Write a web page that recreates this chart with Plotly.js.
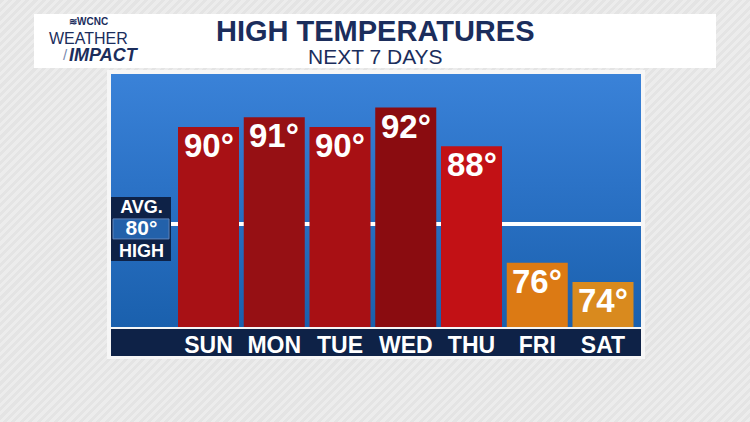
<!DOCTYPE html>
<html>
<head>
<meta charset="utf-8">
<script src="https://cdn.plot.ly/plotly-3.0.1.min.js"></script>
<style>
  html, body { margin:0; padding:0; }
  #wrap { position:relative; width:750px; height:422px; overflow:hidden;
    background: repeating-linear-gradient(135deg, #e4e4e4 0px, #e4e4e4 3px, #ececec 3px, #ececec 6px); }
  .bg { position:absolute; }
  #header { left:34px; top:14px; width:682px; height:54px; background:#ffffff; }
  #panel { left:107px; top:70px; width:538px; height:289px; background:#f6f6f6; }
  #blue { left:111px; top:74px; width:530px; height:253px;
    background: linear-gradient(to bottom, #3a82d8 0%, #2b72c6 45%, #1a60ad 100%); }
  #chart { position:absolute; left:0; top:0; width:750px; height:422px; }
</style>
</head>
<body>
<div id="wrap">
  <div class="bg" id="header"></div>
  <div class="bg" id="panel"></div>
  <div class="bg" id="blue"></div>
  <div id="chart"></div>
</div>
<script>
// ---- data ----
const days = ['SUN', 'MON', 'TUE', 'WED', 'THU', 'FRI', 'SAT'];
const highs = [90, 91, 90, 92, 88, 76, 74];
const avgHigh = 80;
const titleText = 'HIGH TEMPERATURES';
const subtitleText = 'NEXT 7 DAYS';

// ---- styles ----
const barColors = ['#a81115', '#961014', '#a81014', '#8a0c10', '#c21115', '#dc7a14', '#d98a1e'];
const W = 750, H = 422;
const px = x => x / W;
const py = y => 1 - y / H;
const navy = '#0e2247';
const titleNavy = '#1b2d5c';
const boldFont = {family: 'Liberation Sans, Arial, sans-serif', weight: 700};

const trace = {
  type: 'bar',
  x: days,
  y: highs,
  width: 0.928,
  marker: {color: barColors, line: {width: 0}},
  hoverinfo: 'skip'
};

const shapes = [
  // x label band
  {type: 'rect', xref: 'paper', yref: 'paper', x0: px(111), x1: px(641), y0: py(356), y1: py(329),
   fillcolor: navy, line: {width: 0}, layer: 'below'},
  // average line
  {type: 'line', xref: 'x domain', yref: 'y', x0: 0, x1: 1, y0: avgHigh, y1: avgHigh,
   line: {color: '#ffffff', width: 4}, layer: 'below'},
  // avg label box
  {type: 'rect', xref: 'paper', yref: 'y', ysizemode: 'pixel', yanchor: avgHigh,
   x0: px(111), x1: px(171), y0: -37, y1: 27, fillcolor: navy, line: {width: 0}, layer: 'above'},
  {type: 'rect', xref: 'paper', yref: 'y', ysizemode: 'pixel', yanchor: avgHigh,
   x0: px(113), x1: px(169), y0: -15, y1: 5, fillcolor: '#2361aa', line: {color: '#5f83b8', width: 1}, layer: 'above'}
];

const annotations = [
  {xref: 'paper', yref: 'paper', x: px(375), y: py(31), text: titleText, showarrow: false,
   xanchor: 'center', yanchor: 'middle', font: Object.assign({size: 29, color: titleNavy}, boldFont)},
  {xref: 'paper', yref: 'paper', x: px(375), y: py(56.5), text: subtitleText, showarrow: false,
   xanchor: 'center', yanchor: 'middle', font: {family: 'Liberation Sans, Arial, sans-serif', size: 21, color: titleNavy}},
  // logo
  {xref: 'paper', yref: 'paper', x: px(88), y: py(22), text: '<b>≋WCNC</b>', showarrow: false,
   xanchor: 'center', yanchor: 'middle', font: {family: 'Liberation Sans, Arial, sans-serif', size: 10, color: titleNavy}},
  {xref: 'paper', yref: 'paper', x: px(88), y: py(38), text: 'WEATHER', showarrow: false,
   xanchor: 'center', yanchor: 'middle', font: {family: 'Liberation Sans Narrow, Liberation Sans, Arial, sans-serif', size: 16, color: titleNavy}},
  {xref: 'paper', yref: 'paper', x: px(104), y: py(55), text: '<b><i>IMPACT</i></b>', showarrow: false,
   xanchor: 'center', yanchor: 'middle', font: {family: 'Liberation Sans, Arial, sans-serif', size: 18, color: titleNavy}},
  {xref: 'paper', yref: 'paper', x: px(65), y: py(55), text: '/', showarrow: false,
   xanchor: 'center', yanchor: 'middle', font: {family: 'Liberation Sans, Arial, sans-serif', size: 15, color: '#7a8bb0'}},
  // avg label (one block, three lines)
  {xref: 'paper', yref: 'y', x: px(141), y: avgHigh, yshift: -5,
   text: '<span style="font-size:18px">AVG.</span><br><span style="font-size:21px">' + avgHigh + '°</span><br><span style="font-size:18px">HIGH</span>',
   showarrow: false, xanchor: 'center', yanchor: 'middle', align: 'center',
   font: Object.assign({size: 17, color: '#ffffff'}, boldFont)}
];

// value labels on top of each bar, placed through the data axes
days.forEach((d, i) => {
  annotations.push({
    xref: 'x', yref: 'y', x: d, y: highs[i], yshift: 2,
    text: highs[i] + '°', showarrow: false, xanchor: 'center', yanchor: 'top',
    font: Object.assign({size: 33, color: '#ffffff'}, boldFont)
  });
});

const layout = {
  width: W, height: H,
  margin: {l: 0, r: 0, t: 0, b: 0, pad: 0},
  paper_bgcolor: 'rgba(0,0,0,0)',
  plot_bgcolor: 'rgba(0,0,0,0)',
  showlegend: false,
  xaxis: {
    type: 'category',
    domain: [px(111), px(641)],
    range: [-1.483, 6.578],
    showgrid: false, zeroline: false, showline: false,
    ticks: '', ticklabelstandoff: 2,
    tickfont: Object.assign({size: 23, color: '#ffffff'}, boldFont),
    fixedrange: true
  },
  yaxis: {
    domain: [py(327), py(74)],
    range: [69.37, 95.46],
    visible: false,
    fixedrange: true
  },
  shapes: shapes,
  annotations: annotations,
  hovermode: false
};

Plotly.newPlot('chart', [trace], layout, {displayModeBar: false, staticPlot: true});
</script>
</body>
</html>
